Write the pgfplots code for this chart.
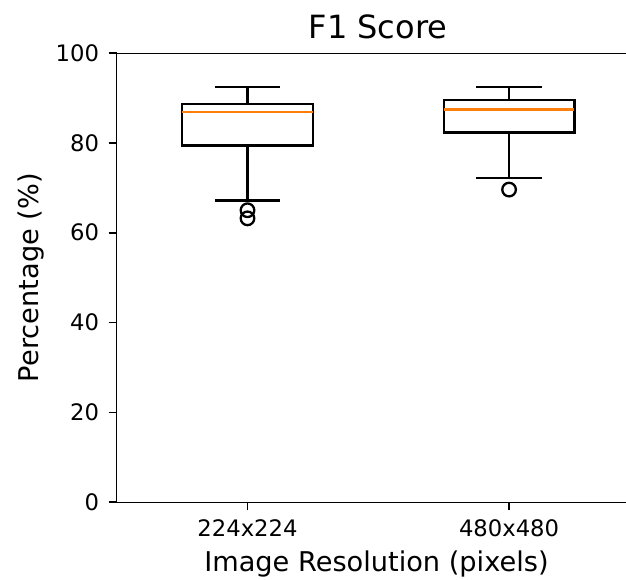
\documentclass[border=0pt]{standalone}
\usepackage{fontspec}
\setmainfont{DejaVu Sans}
\usepackage{pgfplots}
\pgfplotsset{compat=1.18}
\definecolor{mplorange}{HTML}{FF7F0E}
\begin{document}
\begin{tikzpicture}
\begin{axis}[
  name=ax,
  scale only axis,
  width=254.65pt, height=224.65pt,
  xmin=0.5, xmax=2.447, ymin=0, ymax=100,
  axis x line*=box, axis y line*=left,
  x axis line style={-}, y axis line style={-},
  every axis line/.append style={line width=0.9pt},
  xtick pos=bottom, ytick pos=left,
  tick align=outside, major tick length=4pt,
  every tick/.style={black, line width=0.9pt},
  xtick={1,2}, xticklabels={224x224,480x480},
  ytick={0,20,40,60,80,100},
  /pgf/number format/assume math mode=true,
  tick label style={font=\fontsize{11.35}{13.6}\selectfont},
  yticklabel style={xshift=-1.3pt},
  xticklabel style={yshift=-1pt},
  title={F1 Score},
  title style={at={(axis description cs:0.513,1)}, anchor=base, yshift=1.35pt, font=\fontsize{16}{19}\selectfont},
  xlabel={Image Resolution (pixels)},
  xlabel style={at={(axis description cs:0.51,0)}, anchor=base, yshift=-34.6pt, font=\fontsize{13.6}{16}\selectfont},
  ylabel={Percentage (\%)},
  ylabel style={at={(axis description cs:-0.1539,0.5)}, anchor=base, font=\fontsize{13.6}{16}\selectfont},
  boxline/.style={black, line width=1.15pt, mark=none, line join=miter, line cap=rect},
  medline/.style={mplorange, line width=1.15pt, mark=none},
]
% 224x224: lower whisker 67.2, Q1 79.4, median 86.8, Q3 88.7, upper whisker 92.4
\addplot[boxline] coordinates {(0.75,79.4) (1.25,79.4) (1.25,88.7) (0.75,88.7) (0.75,79.4)};
\addplot[boxline, line cap=butt] coordinates {(1,88.7) (1,92.4)};
\addplot[boxline, line cap=butt] coordinates {(1,79.4) (1,67.2)};
\addplot[boxline, line cap=butt] coordinates {(0.875,92.4) (1.125,92.4)};
\addplot[boxline, line cap=butt] coordinates {(0.875,67.2) (1.125,67.2)};
\addplot[medline] coordinates {(0.75,86.8) (1.25,86.8)};
% 480x480: lower whisker 72.2, Q1 82.3, median 87.4, Q3 89.6, upper whisker 92.4
\addplot[boxline] coordinates {(1.75,82.3) (2.25,82.3) (2.25,89.6) (1.75,89.6) (1.75,82.3)};
\addplot[boxline, line cap=butt] coordinates {(2,89.6) (2,92.4)};
\addplot[boxline, line cap=butt] coordinates {(2,82.3) (2,72.2)};
\addplot[boxline, line cap=butt] coordinates {(1.875,92.4) (2.125,92.4)};
\addplot[boxline, line cap=butt] coordinates {(1.875,72.2) (2.125,72.2)};
\addplot[medline] coordinates {(1.75,87.4) (2.25,87.4)};
% outliers
\addplot[only marks, mark=o, mark size=3.4pt, mark options={solid, draw=black, line width=1.15pt}]
  coordinates {(1,65.0) (1,63.2) (2,69.6)};
\end{axis}
\pgfresetboundingbox
\path ([xshift=-58.35pt,yshift=-38.35pt]ax.south west) rectangle ([yshift=26.5pt]ax.north east);
\end{tikzpicture}
\end{document}
